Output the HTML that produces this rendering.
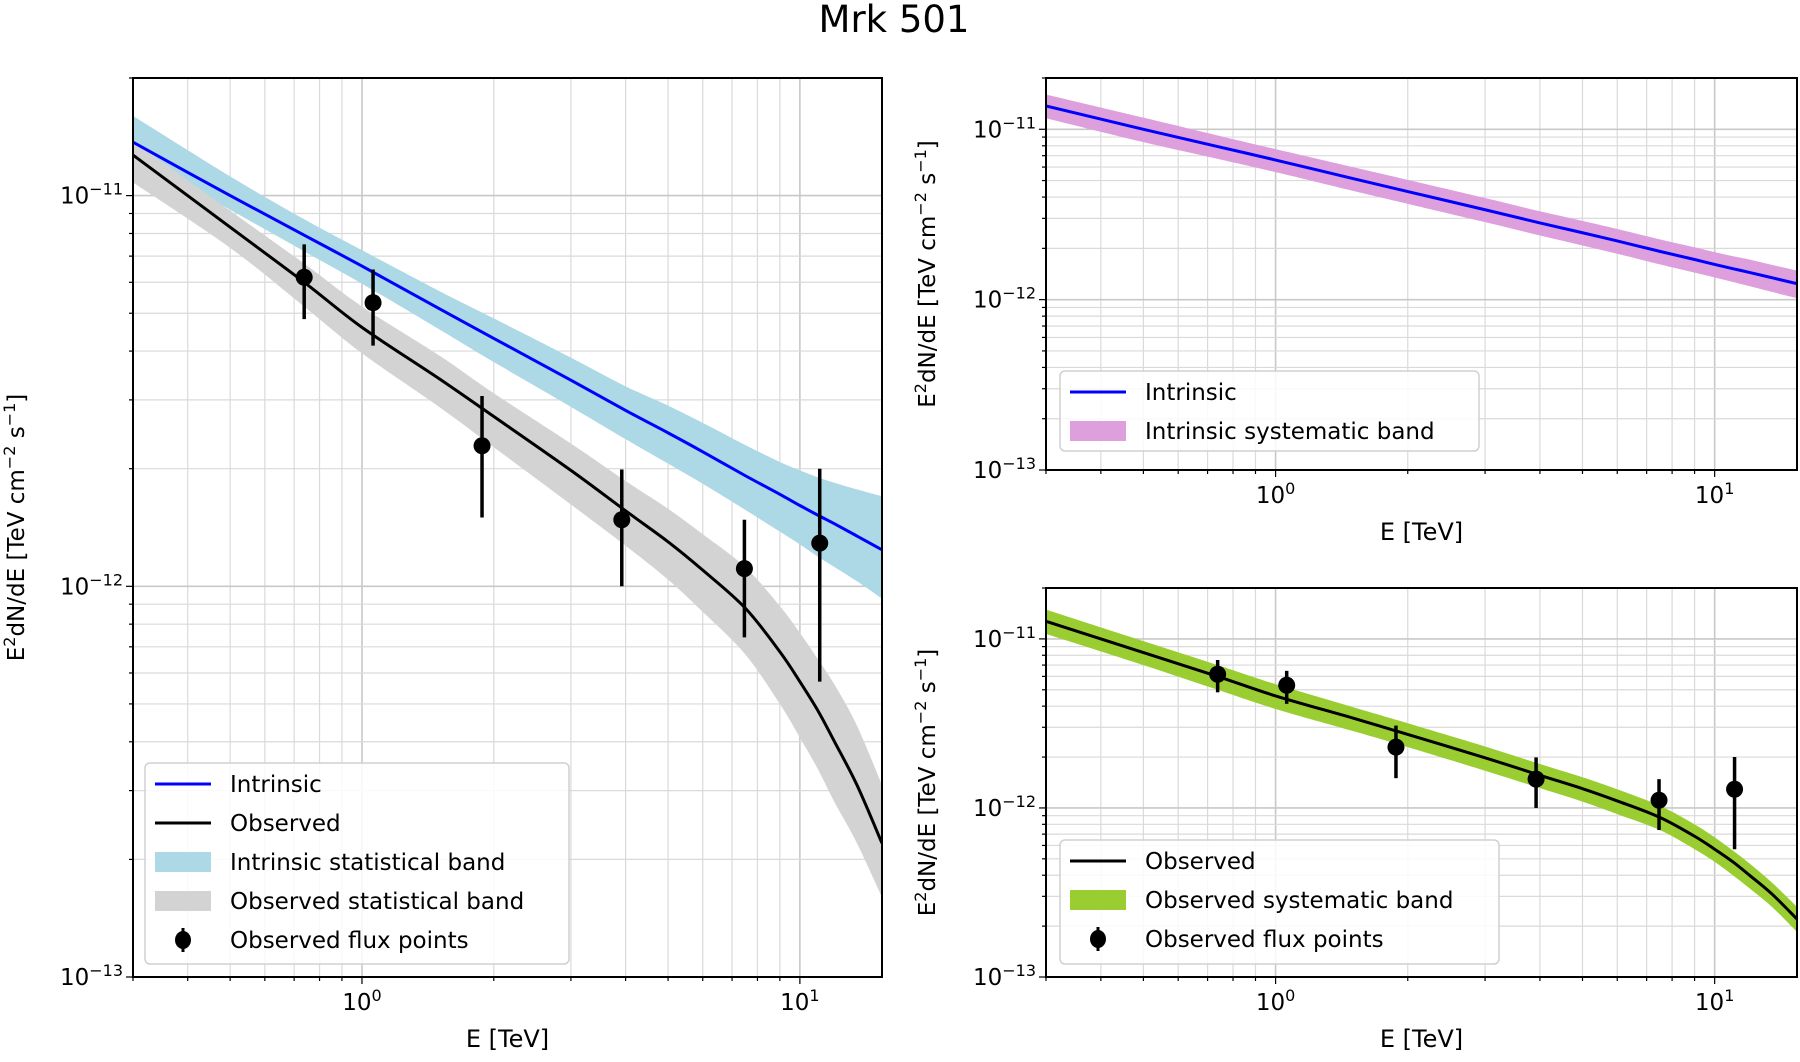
<!DOCTYPE html>
<html><head><meta charset="utf-8"><style>
html,body{margin:0;padding:0;background:#fff}
svg{display:block;font-family:"DejaVu Sans","Liberation Sans",sans-serif}
</style></head><body>
<svg id="fig" width="1800" height="1062" viewBox="0 0 1800 1062" xmlns="http://www.w3.org/2000/svg">
<text x="894" y="32" font-size="37" text-anchor="middle">Mrk 501</text>
</svg>
<script>
const energies = [0.3,0.5,0.738,1,1.5,2,3,4,5,6,7.5,9,10,11,12,13.5,15.4];
const intrinsic = [1.37e-11,1.0e-11,7.92e-12,6.6e-12,5.14e-12,4.31e-12,3.37e-12,2.82e-12,2.47e-12,2.21e-12,1.92e-12,1.72e-12,1.61e-12,1.52e-12,1.445e-12,1.345e-12,1.24e-12];
const intrStatHi = [1.6e-11,1.12e-11,8.7e-12,7.25e-12,5.7e-12,4.85e-12,3.85e-12,3.25e-12,2.9e-12,2.62e-12,2.3e-12,2.08e-12,1.98e-12,1.9e-12,1.84e-12,1.77e-12,1.7e-12];
const intrStatLo = [1.27e-11,9.2e-12,7.2e-12,5.95e-12,4.55e-12,3.75e-12,2.88e-12,2.38e-12,2.06e-12,1.83e-12,1.57e-12,1.38e-12,1.28e-12,1.19e-12,1.12e-12,1.03e-12,9.3e-13];
const observed = [1.27e-11,8.3e-12,6.0e-12,4.6e-12,3.4e-12,2.72e-12,1.98e-12,1.56e-12,1.3e-12,1.1e-12,8.8e-13,6.8e-13,5.7e-13,4.8e-13,4.0e-13,3.1e-13,2.2e-13];
const obsStatHi = [1.38e-11,9.15e-12,6.7e-12,5.2e-12,3.9e-12,3.12e-12,2.32e-12,1.86e-12,1.58e-12,1.36e-12,1.12e-12,8.9e-13,7.6e-13,6.5e-13,5.6e-13,4.4e-13,3.1e-13];
const obsStatLo = [1.08e-11,7.35e-12,5.2e-12,3.95e-12,2.88e-12,2.27e-12,1.62e-12,1.27e-12,1.04e-12,8.6e-13,6.7e-13,5.0e-13,4.1e-13,3.4e-13,2.8e-13,2.2e-13,1.6e-13];
const intrSysHi = [1.6e-11,1.17e-11,9.2e-12,7.65e-12,6.0e-12,5.05e-12,3.95e-12,3.3e-12,2.9e-12,2.6e-12,2.26e-12,2.03e-12,1.9e-12,1.8e-12,1.72e-12,1.6e-12,1.48e-12];
const intrSysLo = [1.16e-11,8.4e-12,6.7e-12,5.6e-12,4.35e-12,3.65e-12,2.85e-12,2.38e-12,2.08e-12,1.86e-12,1.61e-12,1.44e-12,1.35e-12,1.27e-12,1.2e-12,1.11e-12,1.02e-12];
const obsSysHi = [1.49e-11,9.7e-12,7.0e-12,5.4e-12,3.95e-12,3.17e-12,2.31e-12,1.82e-12,1.52e-12,1.29e-12,1.03e-12,8.0e-13,6.7e-13,5.6e-13,4.7e-13,3.62e-13,2.6e-13];
const obsSysLo = [1.07e-11,7.0e-12,5.0e-12,3.85e-12,2.85e-12,2.29e-12,1.66e-12,1.31e-12,1.09e-12,9.2e-13,7.4e-13,5.7e-13,4.8e-13,4.0e-13,3.35e-13,2.6e-13,1.85e-13];
const pointE = [0.738,1.06,1.88,3.92,7.47,11.1];
const pointF = [6.18e-12,5.32e-12,2.29e-12,1.48e-12,1.11e-12,1.29e-12];
const pointHi = [7.5e-12,6.47e-12,3.07e-12,1.99e-12,1.48e-12,2.0e-12];
const pointLo = [4.83e-12,4.13e-12,1.5e-12,1.0e-12,7.4e-13,5.7e-13];
const xTickLabels = ['0','1'];
const yTickExps = ['−11','−12','−13'];

const NS='http://www.w3.org/2000/svg';
const fig=document.getElementById('fig');
function mk(tag,attrs,parent){const e=document.createElementNS(NS,tag);for(const k in attrs)e.setAttribute(k,attrs[k]);(parent||fig).appendChild(e);return e;}
function smooth(pts,start){let d=start?'M'+pts[0][0]+','+pts[0][1]:'L'+pts[0][0]+','+pts[0][1];
  for(let i=0;i<pts.length-1;i++){const p0=pts[Math.max(0,i-1)],p1=pts[i],p2=pts[i+1],p3=pts[Math.min(pts.length-1,i+2)];
    const c1=[p1[0]+(p2[0]-p0[0])/6,p1[1]+(p2[1]-p0[1])/6],c2=[p2[0]-(p3[0]-p1[0])/6,p2[1]-(p3[1]-p1[1])/6];
    d+=`C${c1[0]},${c1[1]} ${c2[0]},${c2[1]} ${p2[0]},${p2[1]}`;}return d;}

const XMIN=0.3, XMAX=15.4, YMIN=1e-13, YMAX=2e-11;

function panel(p){
  const g=mk('g',{});
  
  
  const sx=v=>p.l+(Math.log10(v)-Math.log10(XMIN))/(Math.log10(XMAX)-Math.log10(XMIN))*(p.r-p.l);
  const sy=v=>p.b-(Math.log10(v)-Math.log10(YMIN))/(Math.log10(YMAX)-Math.log10(YMIN))*(p.b-p.t);
  for(let d=-1;d<=1;d++)for(let m=1;m<10;m++){const v=m*Math.pow(10,d);if(v<XMIN||v>XMAX)continue;
    const x=sx(v);const gl=mk('line',{x1:x,x2:x,y1:p.t,y2:p.b,stroke:m==1?'#c8c8c8':'#dadada','stroke-width':m==1?1.6:1.2},g);
    
    mk('line',{x1:x,x2:x,y1:p.b,y2:p.b+(m==1?7:4),stroke:'#000','stroke-width':1.2},g);}
  for(let d=-13;d<=-11;d++)for(let m=1;m<10;m++){const v=m*Math.pow(10,d);if(v<YMIN*0.999||v>YMAX)continue;
    const y=sy(v);const gl=mk('line',{x1:p.l,x2:p.r,y1:y,y2:y,stroke:m==1?'#c8c8c8':'#dadada','stroke-width':m==1?1.6:1.2},g);
    
    mk('line',{x1:p.l,x2:p.l-(m==1?7:4),y1:y,y2:y,stroke:'#000','stroke-width':1.2},g);}
  const clip='clip'+p.name;const cp=mk('clipPath',{id:clip},g);mk('rect',{x:p.l,y:p.t,width:p.r-p.l,height:p.b-p.t},cp);
  const inner=mk('g',{'clip-path':'url(#'+clip+')'},g);
  const api={sx,sy,inner,
    band:(hi,lo,color,name)=>{const up=energies.map((e,i)=>[sx(e),sy(hi[i])]);const dn=energies.map((e,i)=>[sx(e),sy(lo[i])]).reverse();
      const b=mk('path',{d:smooth(up,true)+smooth(dn,false)+'Z',fill:color,stroke:'none'},inner);
      },
    line:(vals,color,name)=>{const pts=energies.map((e,i)=>[sx(e),sy(vals[i])]);
      const l=mk('path',{d:smooth(pts,true),fill:'none',stroke:color,'stroke-width':3},inner);
      }};
  p.draw(api);
  mk('rect',{x:p.l,y:p.t,width:p.r-p.l,height:p.b-p.t,fill:'none',stroke:'#000','stroke-width':2},g);
  [1,10].forEach((v,i)=>{const t=mk('text',{x:sx(v),y:p.b+33,'font-size':23,'text-anchor':'middle'},g);
    
    t.appendChild(document.createTextNode('10'));const s=mk('tspan',{dy:-9,'font-size':16},t);s.textContent=xTickLabels[i];});
  [-11,-12,-13].forEach((d,i)=>{const t=mk('text',{x:p.l-10,y:sy(Math.pow(10,d))+8,'font-size':23,'text-anchor':'end'},g);
    
    t.appendChild(document.createTextNode('10'));const s=mk('tspan',{dy:-9,'font-size':16},t);s.textContent=yTickExps[i];});
  const xl=mk('text',{x:(p.l+p.r)/2,y:p.b+70,'font-size':24,'text-anchor':'middle'},g);xl.textContent='E [TeV]';
  
  const yc=(p.t+p.b)/2;const yl=mk('text',{x:p.ylx,y:yc,'font-size':23,'text-anchor':'middle',transform:`rotate(-90 ${p.ylx} ${yc})`},g);
  
  yl.appendChild(document.createTextNode('E'));
  let s=mk('tspan',{dy:-9,'font-size':16},yl);s.textContent='2';
  s=mk('tspan',{dy:9},yl);s.textContent='dN/dE [TeV cm';
  s=mk('tspan',{dy:-9,'font-size':16},yl);s.textContent='−2';
  s=mk('tspan',{dy:9},yl);s.textContent=' s';
  s=mk('tspan',{dy:-9,'font-size':16},yl);s.textContent='−1';
  s=mk('tspan',{dy:9},yl);s.textContent=']';
  const L=p.legend;const lb=mk('rect',{x:L.x,y:L.y,width:L.w,height:L.h,rx:5,fill:'#fff','fill-opacity':0.85,stroke:'#d0d0d0','stroke-width':1.5},g);
  
  L.items.forEach((it,i)=>{const y=L.y+21+i*39;const hx=L.x+10;
    if(it.type=='line')mk('line',{x1:hx,x2:hx+56,y1:y,y2:y,stroke:it.color,'stroke-width':3},g);
    else if(it.type=='patch')mk('rect',{x:hx,y:y-10,width:56,height:20,fill:it.color},g);
    else{mk('line',{x1:hx+28,x2:hx+28,y1:y-12,y2:y+12,stroke:'#000','stroke-width':3},g);mk('ellipse',{cx:hx+28,cy:y,rx:8,ry:9,fill:'#000'},g);}
    const t=mk('text',{x:L.x+85,y:y+8,'font-size':23},g);t.textContent=it.label;
    });
}
function points(api){pointE.forEach((e,i)=>{const x=api.sx(e);
  const eb=mk('line',{x1:x,x2:x,y1:api.sy(pointHi[i]),y2:api.sy(pointLo[i]),stroke:'#000','stroke-width':3.5},api.inner);
  
  const c=mk('circle',{cx:x,cy:api.sy(pointF[i]),r:8.5,fill:'#000'},api.inner);
  });}

panel({name:'left-panel',l:133,r:882,t:78,b:977,ylx:24,
  draw:api=>{api.band(intrStatHi,intrStatLo,'#add8e6','intrinsic-stat-band');api.band(obsStatHi,obsStatLo,'#d3d3d3','observed-stat-band');
    api.line(intrinsic,'#0000ff','intrinsic-line');api.line(observed,'#000','observed-line');points(api);},
  legend:{x:145,y:763,w:424,h:201,items:[{type:'line',color:'#0000ff',label:'Intrinsic'},{type:'line',color:'#000',label:'Observed'},
    {type:'patch',color:'#add8e6',label:'Intrinsic statistical band'},{type:'patch',color:'#d3d3d3',label:'Observed statistical band'},{type:'pt',label:'Observed flux points'}]}});
panel({name:'top-right-panel',l:1046,r:1797,t:78,b:470,ylx:935,
  draw:api=>{api.band(intrSysHi,intrSysLo,'#dda0dd','intrinsic-sys-band');api.line(intrinsic,'#0000ff','intrinsic-line');},
  legend:{x:1060,y:371,w:419,h:80,items:[{type:'line',color:'#0000ff',label:'Intrinsic'},{type:'patch',color:'#dda0dd',label:'Intrinsic systematic band'}]}});
panel({name:'bottom-right-panel',l:1046,r:1797,t:588,b:977,ylx:935,
  draw:api=>{api.band(obsSysHi,obsSysLo,'#9acd32','observed-sys-band');api.line(observed,'#000','observed-line');points(api);},
  legend:{x:1060,y:840,w:439,h:124,items:[{type:'line',color:'#000',label:'Observed'},{type:'patch',color:'#9acd32',label:'Observed systematic band'},{type:'pt',label:'Observed flux points'}]}});
</script>
</body></html>
